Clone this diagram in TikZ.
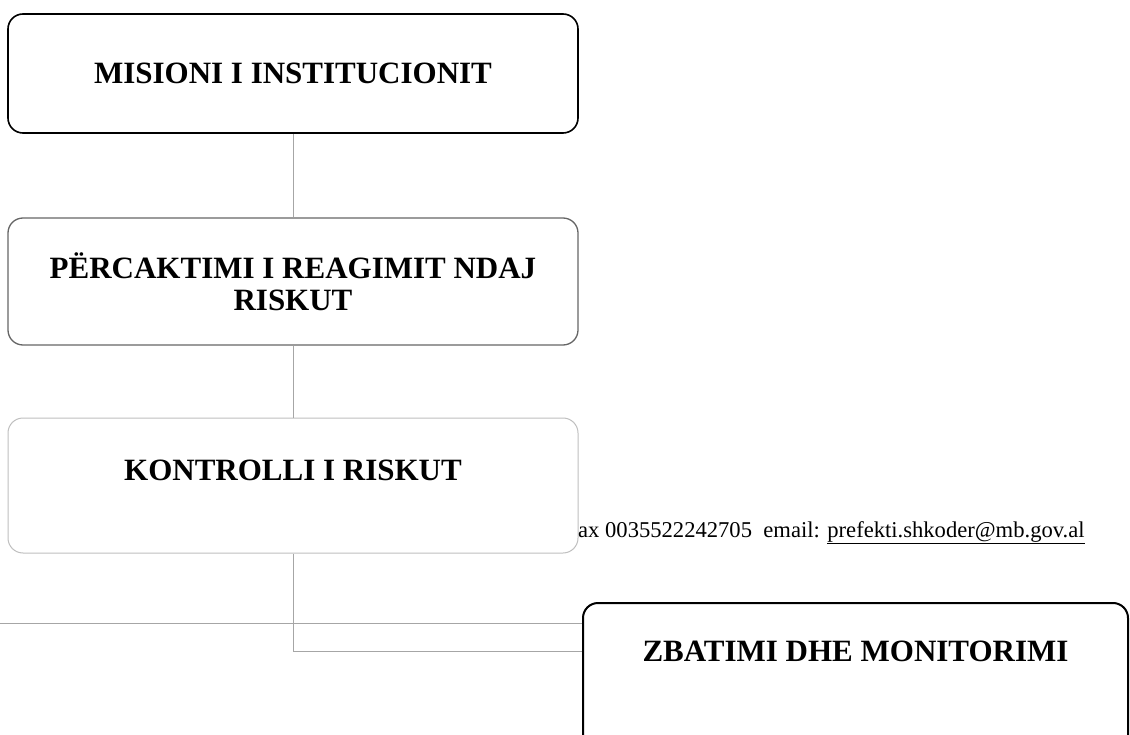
\documentclass[tikz,border=0pt]{standalone}
\usepackage{fontspec}
\setmainfont{Liberation Serif}
\usetikzlibrary{positioning}

\tikzset{
  riskbox/.style={draw, rounded corners=15pt, minimum width=570pt, align=center,
    inner sep=0pt, font=\fontsize{31}{32}\selectfont\bfseries},
  link/.style={draw=gray!70, line width=0.8pt},
}

\begin{document}
\begin{tikzpicture}[x=1pt,y=1pt,node distance=208pt,on grid]
   \useasboundingbox (0,0) rectangle (1130,-735);
   \node[riskbox,minimum height=119pt,line width=1.6pt] (mission) at (293,-73.5) {MISIONI I INSTITUCIONIT};
   \node[riskbox,minimum height=127pt,line width=1.3pt,draw=gray!80!black] (response) [below=208pt of mission] {PËRCAKTIMI I REAGIMIT NDAJ\\RISKUT};
   \node[riskbox,minimum height=135pt,line width=1pt,draw=gray!50,text height=20pt,text depth=30pt] (control) [below=204pt of response] {KONTROLLI I RISKUT};
   \node[anchor=base west,inner sep=0pt,font=\fontsize{22.6}{26}\selectfont] (fax) at (578,-537) {ax 0035522242705~~email: \underline{prefekti.shkoder@mb.gov.al}};
   \node[riskbox,minimum width=545pt,minimum height=157pt,line width=2pt,text height=20pt,text depth=60pt] (monitor) at (855.5,-681.5) {ZBATIMI DHE MONITORIMI};
   \coordinate (margin) at (0,-623);
    \path[link] 
    (mission) edge (response)
    (response) edge (control);
    \draw[link] (control.south) |- ([yshift=-49pt]monitor.north west);
    \draw[link] (margin) -- (margin -| monitor.west);
\end{tikzpicture}
\end{document}
